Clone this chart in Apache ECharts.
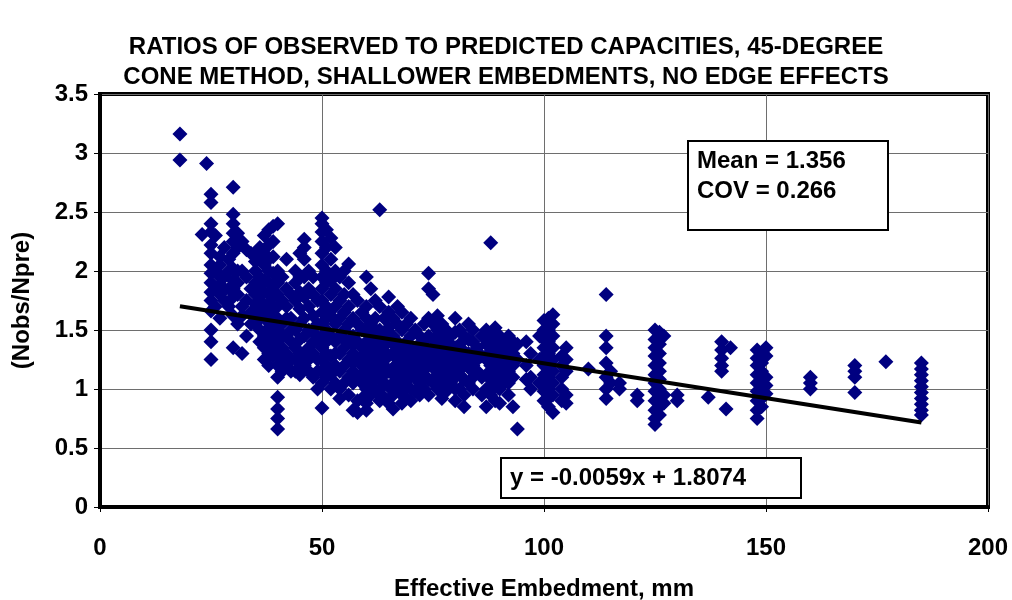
<!DOCTYPE html>
<html>
<head>
<meta charset="utf-8">
<script src="https://cdn.jsdelivr.net/npm/echarts@6/dist/echarts.min.js"></script>
<style>html,body{margin:0;padding:0;background:#fff}#chart{width:1012px;height:600px}</style>
</head>
<body>
<div id="chart"></div>
<script>
const titleLines = ['RATIOS OF OBSERVED TO PREDICTED CAPACITIES, 45-DEGREE', 'CONE METHOD, SHALLOWER EMBEDMENTS, NO EDGE EFFECTS'];
const xAxisName = 'Effective Embedment, mm';
const yAxisName = '(Nobs/Npre)';
const statsText = ['Mean = 1.356', 'COV = 0.266'];
const trendSlope = -0.0059;
const trendIntercept = 1.8074;
const trendXRange = [18, 185];
const trendLabel = 'y = -0.0059x + 1.8074';

// [embedment mm, ratio]
const observations = [
[18,3.16],[18,2.94],[23,2.31],[24,2.91],
[25,2.65],[25,2.58],[25,2.40],[25,2.33],[25,2.22],[25,2.15],[25,2.05],[25,1.98],[25,1.90],[25,1.82],[25,1.75],[25,1.66],[25,1.50],[25,1.40],[25,1.25],
[26,2.0],[26,1.85],[26,1.7],[26,2.3],
[27,2.05],[27,1.95],[27,1.88],[27,1.80],[27,1.60],[27,2.12],
[28,2.2],[28,1.95],[28,1.75],[28,1.85],
[29,2.0],[29,1.85],[29,1.7],[29,2.1],
[30,2.71],[30,2.48],[30,2.40],[30,2.32],[30,2.25],[30,2.15],[30,2.02],[30,1.92],[30,1.85],[30,1.78],[30,1.62],[30,1.35],
[31,2.32],[31,2.2],[31,2.0],[31,1.8],[31,1.55],[31,1.9],
[32,2.25],[32,2.0],[32,1.7],[32,1.62],[32,1.30],
[33,1.95],[33,1.75],[33,1.45],[33,2.18],
[34,2.15],[34,1.85],[34,1.65],[34,1.55],
[35,2.15],[35,2.08],[35,2.0],[35,1.9],[35,1.8],[35,1.72],[35,1.65],[35,1.55],
[36,2.2],[36,2.1],[36,1.95],[36,1.85],[36,1.75],[36,1.68],[36,1.6],[36,1.5],[36,1.4],
[37,2.3],[37,2.15],[37,2.05],[37,1.92],[37,1.82],[37,1.7],[37,1.6],[37,1.45],[37,1.35],[37,1.25],
[38,2.35],[38,2.22],[38,2.1],[38,2.0],[38,1.9],[38,1.8],[38,1.72],[38,1.62],[38,1.52],[38,1.42],[38,1.3],[38,1.2],
[39,2.38],[39,2.25],[39,2.12],[39,1.98],[39,1.88],[39,1.78],[39,1.68],[39,1.58],[39,1.48],[39,1.38],[39,1.28],
[40,2.4],[40,2.0],[40,1.9],[40,1.8],[40,1.7],[40,1.6],[40,1.5],[40,1.4],[40,1.3],[40,1.2],[40,1.1],[40,0.93],[40,0.83],[40,0.75],[40,0.66],
[41,1.95],[41,1.75],[41,1.55],[41,1.35],[41,1.15],[41,1.25],[41,1.45],
[42,2.1],[42,1.85],[42,1.7],[42,1.6],[42,1.45],[42,1.3],[42,1.2],
[43,1.8],[43,1.6],[43,1.4],[43,1.25],[43,1.5],[43,1.15],
[44,2.0],[44,1.9],[44,1.75],[44,1.5],[44,1.35],[44,1.15],[44,1.25],
[45,2.15],[45,1.95],[45,1.82],[45,1.68],[45,1.55],[45,1.42],[45,1.3],[45,1.22],[45,1.12],
[46,2.27],[46,2.2],[46,2.1],[46,1.95],[46,1.78],[46,1.6],[46,1.45],[46,1.3],[46,1.2],
[47,2.0],[47,1.85],[47,1.7],[47,1.5],[47,1.35],[47,1.15],[47,1.25],
[48,1.95],[48,1.8],[48,1.62],[48,1.48],[48,1.3],[48,1.1],[48,1.4],
[49,1.75],[49,1.55],[49,1.4],[49,1.25],[49,1.0],[49,1.15],
[50,2.45],[50,2.4],[50,2.33],[50,2.25],[50,2.15],[50,2.05],[50,1.95],[50,1.85],[50,1.75],[50,1.65],[50,1.55],[50,1.45],[50,1.35],[50,1.25],[50,1.15],[50,1.05],[50,0.84],
[51,2.35],[51,2.2],[51,2.0],[51,1.9],[51,1.7],[51,1.5],[51,1.3],[51,1.1],[51,1.6],[51,1.4],[51,1.2],
[52,2.28],[52,2.1],[52,1.92],[52,1.8],[52,1.62],[52,1.45],[52,1.28],[52,1.12],[52,1.0],
[53,2.2],[53,2.0],[53,1.85],[53,1.7],[53,1.55],[53,1.4],[53,1.2],[53,1.05],[53,1.3],
[54,1.95],[54,1.75],[54,1.6],[54,1.45],[54,1.3],[54,1.15],[54,1.0],[54,0.92],
[55,2.0],[55,1.8],[55,1.65],[55,1.5],[55,1.35],[55,1.2],[55,1.05],[55,1.42],
[56,2.06],[56,1.9],[56,1.7],[56,1.55],[56,1.4],[56,1.25],[56,1.1],[56,0.95],
[57,1.8],[57,1.6],[57,1.45],[57,1.3],[57,1.15],[57,0.82],[57,1.38],[57,1.22],[57,1.05],
[58,1.75],[58,1.55],[58,1.4],[58,1.25],[58,1.1],[58,0.9],[58,0.8],
[59,1.65],[59,1.5],[59,1.35],[59,1.2],[59,1.05],[59,0.92],[59,1.28],[59,1.12],
[60,1.95],[60,1.7],[60,1.6],[60,1.5],[60,1.4],[60,1.3],[60,1.2],[60,1.1],[60,1.0],[60,0.88],[60,0.82],
[61,1.85],[61,1.55],[61,1.45],[61,1.35],[61,1.25],[61,1.15],[61,1.05],[61,0.95],
[62,1.75],[62,1.6],[62,1.42],[62,1.3],[62,1.18],[62,1.08],[62,1.5],[62,1.25],[62,0.98],
[63,2.52],[63,1.7],[63,1.5],[63,1.38],[63,1.25],[63,1.12],[63,1.0],[63,0.9],
[64,1.6],[64,1.45],[64,1.32],[64,1.2],[64,1.05],[64,0.93],[64,1.38],[64,1.12],
[65,1.78],[65,1.65],[65,1.52],[65,1.4],[65,1.28],[65,1.15],[65,1.02],[65,0.88],
[66,1.6],[66,1.45],[66,1.3],[66,1.18],[66,1.05],[66,0.95],[66,0.83],[66,1.38],[66,1.12],
[67,1.7],[67,1.55],[67,1.4],[67,1.25],[67,1.12],[67,1.0],[67,1.32],[67,1.18],
[68,1.65],[68,1.5],[68,1.35],[68,1.2],[68,1.08],[68,0.95],[68,0.88],[68,1.28],
[69,1.55],[69,1.4],[69,1.28],[69,1.15],[69,1.02],[69,0.92],[69,1.35],[69,1.22],
[70,1.6],[70,1.45],[70,1.32],[70,1.2],[70,1.1],[70,1.0],[70,0.9],[70,1.25],
[71,1.5],[71,1.35],[71,1.22],[71,1.1],[71,0.98],[71,1.28],[71,1.15],
[72,1.45],[72,1.3],[72,1.18],[72,1.05],[72,0.95],[72,1.38],[72,1.25],
[73,1.55],[73,1.4],[73,1.25],[73,1.12],[73,1.0],[73,1.32],[73,1.18],
[74,1.98],[74,1.85],[74,1.6],[74,1.45],[74,1.32],[74,1.2],[74,1.08],[74,0.95],
[75,1.8],[75,1.55],[75,1.42],[75,1.3],[75,1.18],[75,1.05],[75,1.25],
[76,1.62],[76,1.5],[76,1.38],[76,1.25],[76,1.12],[76,1.0],[76,1.3],
[77,1.55],[77,1.42],[77,1.3],[77,1.18],[77,1.05],[77,0.92],[77,1.25],
[78,1.5],[78,1.35],[78,1.22],[78,1.1],[78,0.98],[78,1.28],[78,1.15],
[79,1.45],[79,1.3],[79,1.18],[79,1.05],[79,1.38],[79,1.25],
[80,1.6],[80,1.48],[80,1.35],[80,1.22],[80,1.1],[80,1.0],[80,0.9],
[81,1.5],[81,1.38],[81,1.25],[81,1.12],[81,1.0],[81,1.3],[81,1.18],
[82,1.45],[82,1.32],[82,1.2],[82,1.08],[82,0.95],[82,0.85],[82,1.25],
[83,1.55],[83,1.42],[83,1.3],[83,1.18],[83,1.05],[83,1.22],
[84,1.5],[84,1.4],[84,1.3],[84,1.2],[84,1.1],[84,1.0],
[85,1.35],[85,1.25],[85,1.15],
[86,1.45],[86,1.28],[86,1.1],[86,0.95],
[87,1.5],[87,1.38],[87,1.25],[87,1.12],[87,1.0],[87,0.85],
[88,2.24],[88,1.45],[88,1.32],[88,1.2],[88,1.08],[88,0.95],[88,1.25],
[89,1.52],[89,1.4],[89,1.28],[89,1.15],[89,1.02],[89,0.9],[89,1.22],
[90,1.45],[90,1.35],[90,1.22],[90,1.1],[90,1.0],[90,0.88],[90,1.28],
[91,1.4],[91,1.3],[91,1.18],[91,1.05],[91,1.25],[91,1.12],
[92,1.45],[92,1.35],[92,1.25],[92,1.15],[92,1.05],[92,0.95],
[93,1.4],[93,1.3],[93,1.2],[93,1.1],[93,0.85],
[94,0.66],[94,1.38],[94,1.25],
[96,1.4],[96,1.2],[96,1.08],
[97,1.3],[97,1.1],[97,1.0],
[99,1.45],[99,1.25],[99,1.05],
[100,1.58],[100,1.5],[100,1.42],[100,1.35],[100,1.28],[100,1.2],[100,1.12],[100,1.05],[100,0.98],[100,0.9],
[101,1.6],[101,1.5],[101,1.4],[101,1.3],[101,1.2],[101,1.1],[101,1.0],[101,0.92],[101,0.85],
[102,1.63],[102,1.55],[102,1.45],[102,1.35],[102,1.25],[102,1.15],[102,1.05],[102,0.95],[102,0.8],
[104,1.28],[104,1.2],[104,1.1],[104,1.0],[104,0.9],
[105,1.35],[105,1.25],[105,1.15],[105,0.95],[105,0.88],
[110,1.17],
[114,1.8],[114,1.45],[114,1.35],[114,1.22],[114,1.1],[114,1.0],[114,0.92],
[115,1.15],[115,1.05],
[117,1.05],[117,1.0],
[121,0.95],[121,0.9],
[125,1.5],[125,1.42],[125,1.35],[125,1.28],[125,1.2],[125,1.12],[125,1.05],[125,0.98],[125,0.9],[125,0.82],[125,0.75],[125,0.7],
[126,1.48],[126,1.38],[126,1.3],[126,1.22],[126,1.15],[126,1.08],[126,1.0],[126,0.93],[126,0.85],[126,0.78],
[127,1.45],[127,0.95],[127,0.88],
[130,0.95],[130,0.9],
[137,0.93],
[140,1.4],[140,1.33],[140,1.26],[140,1.2],[140,1.15],
[141,0.83],
[142,1.35],
[148,1.33],[148,1.26],[148,1.2],[148,1.12],[148,1.05],[148,0.98],[148,0.9],[148,0.82],[148,0.75],
[149,1.3],[149,1.22],[149,1.15],[149,1.08],[149,1.0],[149,0.92],[149,0.85],
[150,1.35],[150,1.28],[150,1.1],[150,1.03],[150,0.96],
[160,1.1],[160,1.05],[160,1.0],
[170,1.2],[170,1.15],[170,1.1],[170,0.97],
[177,1.23],
[185,1.22],[185,1.17],[185,1.12],[185,1.07],[185,1.02],[185,0.97],[185,0.92],[185,0.87],[185,0.82],[185,0.78]
];

const FONT = "'Liberation Sans', Arial, sans-serif";
const trendData = trendXRange.map(x => [x, trendSlope * x + trendIntercept]);

const chart = echarts.init(document.getElementById('chart'), null, {renderer: 'canvas'});
chart.setOption({
  backgroundColor: '#fff',
  animation: false,
  title: {
    text: titleLines.join('\n'),
    left: 'center', top: 27,
    textStyle: {fontFamily: FONT, fontWeight: 'bold', fontSize: 24, lineHeight: 30, color: '#000'}
  },
  grid: {left: 100, right: 24, top: 94, bottom: 93, show: true, borderColor: '#000', borderWidth: 4, backgroundColor: 'transparent', containLabel: false, outerBoundsMode: 'none'},
  xAxis: {
    type: 'value', min: 0, max: 200, interval: 50,
    name: xAxisName, nameLocation: 'middle', nameGap: 70,
    nameTextStyle: {fontFamily: FONT, fontWeight: 'bold', fontSize: 24, color: '#000'},
    axisLine: {show: true, lineStyle: {color: '#000', width: 4}},
    axisTick: {show: true, length: 5, lineStyle: {color: '#000', width: 1}},
    axisLabel: {fontFamily: FONT, fontWeight: 'bold', fontSize: 24, color: '#000', margin: 29},
    splitLine: {show: true, lineStyle: {color: '#6e6e6e', width: 1}}
  },
  yAxis: {
    type: 'value', min: 0, max: 3.5, interval: 0.5,
    name: yAxisName, nameLocation: 'middle', nameGap: 66, nameRotate: 90,
    nameTextStyle: {fontFamily: FONT, fontWeight: 'bold', fontSize: 24, color: '#000'},
    axisLine: {show: true, lineStyle: {color: '#000', width: 4}},
    axisTick: {show: true, length: 6, lineStyle: {color: '#000', width: 1}},
    axisLabel: {fontFamily: FONT, fontWeight: 'bold', fontSize: 24, color: '#000', margin: 12},
    splitLine: {show: true, lineStyle: {color: '#6e6e6e', width: 1}}
  },
  series: [
    {
      type: 'scatter', data: observations, symbol: 'diamond', symbolSize: 15,
      itemStyle: {color: '#000080', opacity: 1}, z: 2
    },
    {
      type: 'line', data: trendData, symbol: 'none',
      lineStyle: {color: '#000', width: 4}, z: 3
    }
  ],
  graphic: [
    {type: 'rect', left: 687, top: 140, shape: {width: 200, height: 89}, style: {fill: '#fff', stroke: '#000', lineWidth: 2}, z: 10},
    {type: 'text', left: 697, top: 146, style: {text: statsText.join('\n'), fontFamily: FONT, fontWeight: 'bold', fontSize: 24, lineHeight: 30, fill: '#000'}, z: 11},
    {type: 'rect', left: 500, top: 457, shape: {width: 300, height: 40}, style: {fill: '#fff', stroke: '#000', lineWidth: 2}, z: 10},
    {type: 'text', left: 510, top: 464, style: {text: trendLabel, fontFamily: FONT, fontWeight: 'bold', fontSize: 24, lineHeight: 28, fill: '#000'}, z: 11}
  ]
});
</script>
</body>
</html>
